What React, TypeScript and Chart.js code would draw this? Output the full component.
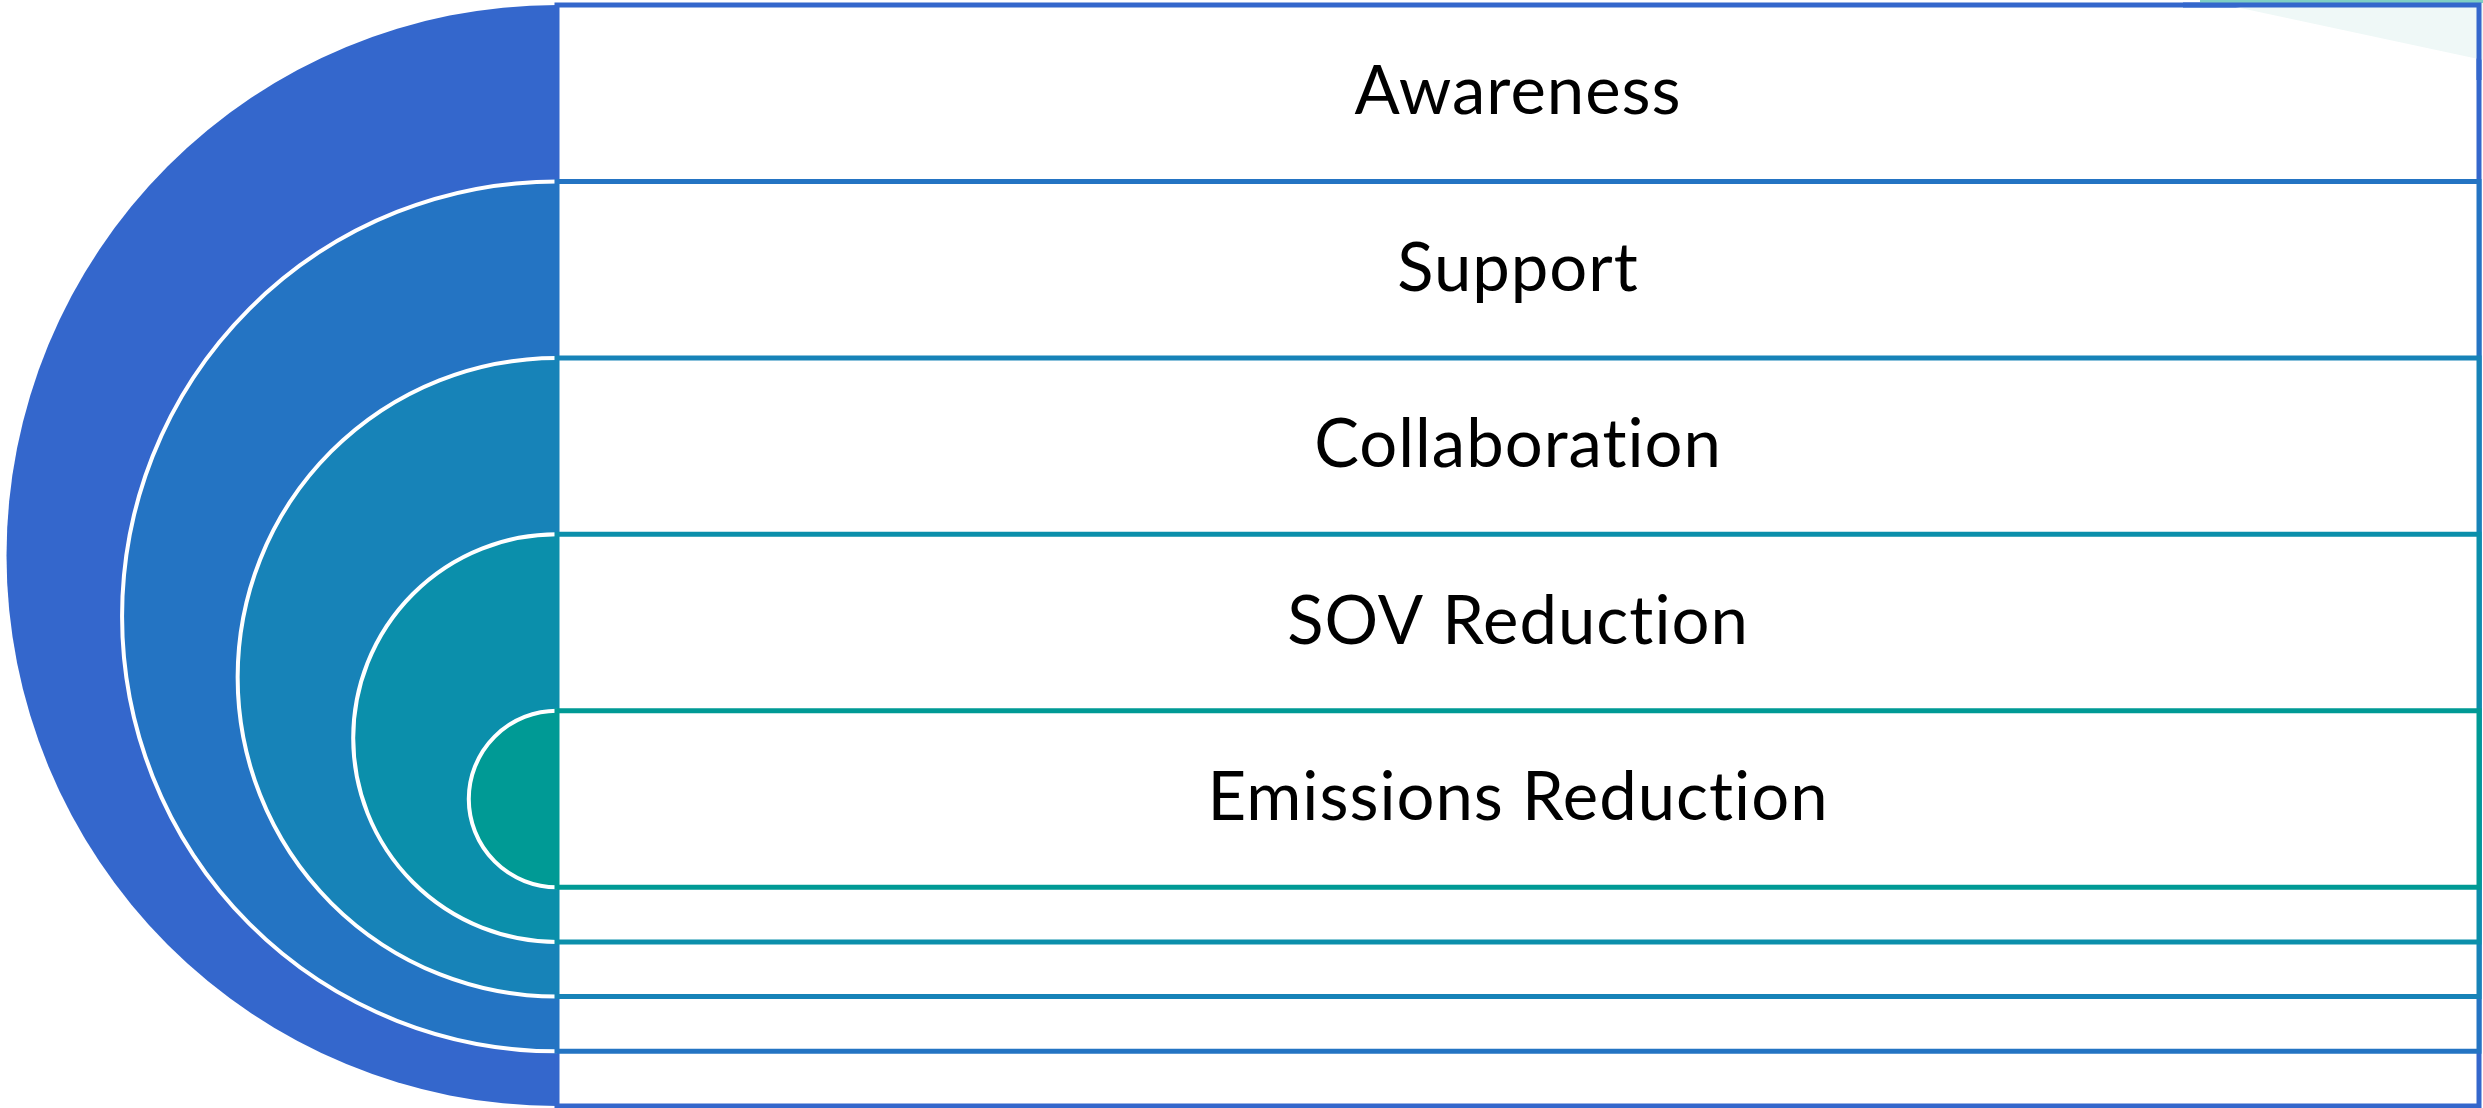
import { useEffect, useRef } from 'react';
import { Chart, registerables } from 'chart.js';

Chart.register(...registerables);

// ---- data ----
const levels = ['Awareness', 'Support', 'Collaboration', 'SOV Reduction', 'Emissions Reduction'];
const levelColors = ['#3467CC', '#2474C3', '#1783B8', '#0B8FAB', '#009A95'];

// structural units (one labelled band = 1, the trailing stripe of each ring = TAIL)
const BAND = 1;
const TAIL = 0.31;
const TOTAL = levels.length * BAND + (levels.length - 1) * TAIL;
const X_MAX = 10.893;

const levelTop = levels.map((_, i) => i * BAND);
const levelBottom = levels.map((_, i) => levels.length * BAND + (levels.length - 1 - i) * TAIL);

const FONT_FAMILY = 'Lato, "Open Sans", sans-serif';
const FONT_SIZE = 67;

const nestedTargetPlugin = {
  id: 'nestedTarget',
  beforeDatasetsDraw(chart: any) {
    const { ctx, scales } = chart;
    const xs = scales.x;
    const ys = scales.y;
    ctx.save();

    const x0 = xs.getPixelForValue(0);
    const x1 = xs.getPixelForValue(X_MAX);

    levels.forEach((_, i) => {
      const yTop = ys.getPixelForValue(levelTop[i]);
      const yBot = ys.getPixelForValue(levelBottom[i]);
      const cy = (yTop + yBot) / 2;
      const r = (yBot - yTop) / 2;

      // half disc
      ctx.beginPath();
      ctx.arc(x0, cy, r, Math.PI / 2, (3 * Math.PI) / 2, false);
      ctx.closePath();
      ctx.fillStyle = levelColors[i];
      ctx.fill();
      if (i > 0) {
        ctx.beginPath();
        ctx.arc(x0, cy, r, Math.PI / 2, (3 * Math.PI) / 2, false);
        ctx.strokeStyle = '#FFFFFF';
        ctx.lineWidth = 4;
        ctx.stroke();
      }

      // rectangle
      ctx.beginPath();
      ctx.rect(x0, yTop, x1 - x0, yBot - yTop);
      ctx.fillStyle = '#FFFFFF';
      ctx.fill();
      ctx.strokeStyle = levelColors[i];
      ctx.lineWidth = 5;
      ctx.stroke();
    });

    // faint background artefact in the upper right corner (shows through the top box)
    const W = chart.width;
    ctx.fillStyle = '#EFF8F7';
    ctx.beginPath();
    ctx.moveTo(W - 280, 0);
    ctx.lineTo(W, 0);
    ctx.lineTo(W, 60);
    ctx.closePath();
    ctx.fill();
    ctx.fillStyle = '#7FCFC4';
    ctx.fillRect(W - 283, 0, 283, 3);
    // re-stroke the top/right edge of the outer box over it
    const yTop0 = ys.getPixelForValue(levelTop[0]);
    ctx.beginPath();
    ctx.moveTo(W - 300, yTop0);
    ctx.lineTo(x1, yTop0);
    ctx.lineTo(x1, 80);
    ctx.strokeStyle = levelColors[0];
    ctx.lineWidth = 5;
    ctx.stroke();

    // labels
    ctx.fillStyle = '#000000';
    ctx.font = `${FONT_SIZE}px ${FONT_FAMILY}`;
    try {
      (ctx as any).letterSpacing = '1px';
    } catch (e) {
      /* ignore */
    }
    ctx.textAlign = 'center';
    ctx.textBaseline = 'alphabetic';
    const meta = chart.getDatasetMeta(0);
    meta.data.forEach((pt: any, i: number) => {
      ctx.fillText(levels[i], pt.x, pt.y + FONT_SIZE * 0.36 - 3);
    });

    ctx.restore();
  },
};

export default function App() {
  const canvasRef = useRef<HTMLCanvasElement | null>(null);

  useEffect(() => {
    const canvas = canvasRef.current;
    if (!canvas) return;
    const chart = new Chart(canvas, {
      type: 'scatter',
      data: {
        datasets: [
          {
            label: 'levels',
            data: levels.map((_, i) => ({ x: X_MAX / 2, y: levelTop[i] + BAND / 2 })),
            pointRadius: 0,
            pointHoverRadius: 0,
          },
        ],
      },
      options: {
        animation: false,
        responsive: false,
        maintainAspectRatio: false,
        devicePixelRatio: 1,
        events: [],
        layout: { padding: { left: 6.5, right: 4, top: 5, bottom: 2 } },
        plugins: {
          legend: { display: false },
          tooltip: { enabled: false },
          title: { display: false },
        },
        scales: {
          x: { type: 'linear', display: false, min: -TOTAL / 2, max: X_MAX },
          y: { type: 'linear', display: false, min: 0, max: TOTAL, reverse: true },
        },
      },
      plugins: [nestedTargetPlugin],
    });
    return () => chart.destroy();
  }, []);

  return (
    <div style={{ position: 'fixed', left: 0, top: 0, width: 2483, height: 1108, background: '#FFFFFF' }}>
      <canvas ref={canvasRef} width={2483} height={1108} style={{ width: 2483, height: 1108, display: 'block' }} />
    </div>
  );
}
